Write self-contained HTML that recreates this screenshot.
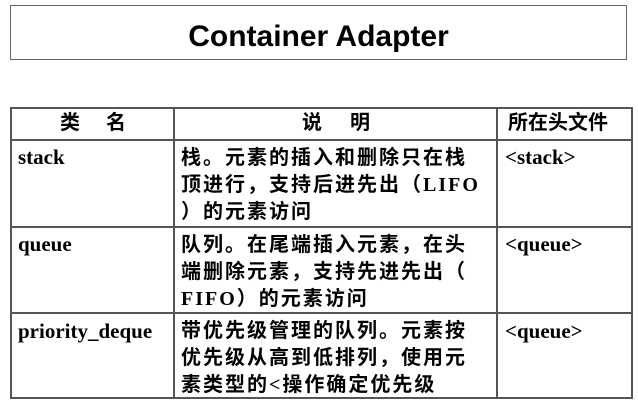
<!DOCTYPE html>
<html><head><meta charset="utf-8"><style>
body{margin:0;width:638px;height:404px;background:#fff;position:relative;overflow:hidden}
.b{position:absolute;box-sizing:border-box}
.t{position:absolute;white-space:nowrap;color:#000}
.cj{font-family:"Liberation Serif","Noto Sans CJK SC",sans-serif;font-size:20px;letter-spacing:2px;line-height:27px;font-weight:bold}
.lat{font-family:"Liberation Serif",serif;font-weight:bold;font-size:21px}
.h{background:#555;}
</style></head><body>
<div class="b" style="left:10px;top:5px;width:617px;height:55px;border:1.5px solid #666"></div>
<div class="t" style="left:10px;width:617px;top:19px;text-align:center;font-family:'Liberation Sans',sans-serif;font-weight:bold;font-size:30px;line-height:36px">Container Adapter</div>

<div class="b h" style="left:10px;top:107px;width:623px;height:2px"></div>
<div class="b h" style="left:10px;top:139px;width:623px;height:2px"></div>
<div class="b h" style="left:10px;top:226px;width:623px;height:2px"></div>
<div class="b h" style="left:10px;top:312px;width:623px;height:2px"></div>
<div class="b h" style="left:10px;top:397px;width:623px;height:2px"></div>
<div class="b h" style="left:10px;top:107px;width:2px;height:292px"></div>
<div class="b h" style="left:173px;top:107px;width:2px;height:292px"></div>
<div class="b h" style="left:496px;top:107px;width:2px;height:292px"></div>
<div class="b h" style="left:631px;top:107px;width:2px;height:292px"></div>

<div class="t cj" style="left:60px;top:110px;letter-spacing:26px">类名</div>
<div class="t cj" style="left:302px;top:110px;letter-spacing:28px">说明</div>
<div class="t cj" style="left:508px;top:110px;letter-spacing:0">所在头文件</div>

<div class="t lat" style="left:18px;top:145px">stack</div>
<div class="t lat" style="left:18px;top:232px">queue</div>
<div class="t lat" style="left:18px;top:319px">priority_deque</div>
<div class="t lat" style="left:505px;top:145px">&lt;stack&gt;</div>
<div class="t lat" style="left:505px;top:232px">&lt;queue&gt;</div>
<div class="t lat" style="left:505px;top:319px">&lt;queue&gt;</div>

<div class="t cj" style="left:181px;top:145px">栈。元素的插入和删除只在栈<br>顶进行，支持后进先出（LIFO<br>）的元素访问</div>
<div class="t cj" style="left:181px;top:232px">队列。在尾端插入元素，在头<br>端删除元素，支持先进先出（<br>FIFO）的元素访问</div>
<div class="t cj" style="left:181px;top:318px">带优先级管理的队列。元素按<br>优先级从高到低排列，使用元<br>素类型的&lt;操作确定优先级</div>
</body></html>
